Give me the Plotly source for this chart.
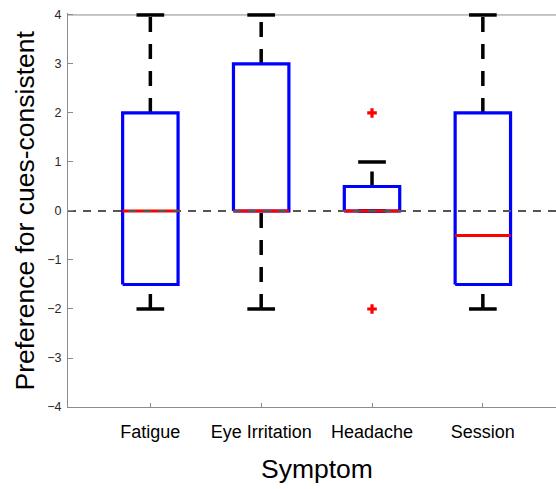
import plotly.graph_objects as go

# Box-plot summary per symptom
symptoms = ["Fatigue", "Eye Irritation", "Headache", "Session"]
positions = [1, 2, 3, 4]
lower_whisker = [-2, -2, 0, -2]
q1 = [-1.5, 0, 0, -1.5]
median = [0, 0, 0, -0.5]
q3 = [2, 3, 0.5, 2]
upper_whisker = [4, 4, 1, 4]
outlier_x = ["Headache", "Headache"]
outlier_y = [2, -2]

y_ticks = [-4, -3, -2, -1, 0, 1, 2, 3, 4]

BOX_HALF = 0.25
CAP_HALF = 0.125
X_RANGE = [0.257, 4.66]
Y_RANGE = [-4, 4.04]

fig = go.Figure()

def add_line(xs, ys, color, width, dash="solid"):
    fig.add_trace(go.Scatter(
        x=xs, y=ys, mode="lines",
        line=dict(color=color, width=width, dash=dash),
        hoverinfo="skip", showlegend=False,
    ))

# top border of the axes box
add_line(X_RANGE, [4, 4], "#8c8c8c", 1)

for p, lo, a, m, b, hi in zip(positions, lower_whisker, q1, median, q3, upper_whisker):
    # dashed whiskers, each drawn upward (low value to high value)
    if hi > b:
        add_line([p, p], [b, hi], "black", 3.5, "15px,12px")
    if lo < a:
        add_line([p, p], [lo, a], "black", 3.5, "15px,12px")
    # whisker caps
    add_line([p - CAP_HALF, p + CAP_HALF], [hi, hi], "black", 3.5)
    add_line([p - CAP_HALF, p + CAP_HALF], [lo, lo], "black", 3.5)
    # interquartile box
    add_line([p - BOX_HALF, p + BOX_HALF, p + BOX_HALF, p - BOX_HALF, p - BOX_HALF],
             [a, a, b, b, a], "#0000ff", 3.2)
    # median
    add_line([p - BOX_HALF, p + BOX_HALF], [m, m], "#ff0000", 3)

# outliers
fig.add_trace(go.Scatter(
    x=[positions[symptoms.index(s)] for s in outlier_x], y=outlier_y,
    mode="markers",
    marker=dict(symbol="cross", size=8, color="#ff0000", line=dict(width=0)),
    hoverinfo="skip", showlegend=False,
))

# zero reference line
add_line(X_RANGE, [0, 0], "#555555", 2, "8px,7px")

fig.update_layout(
    width=556, height=489,
    margin=dict(l=67.5, r=0, t=12.5, b=82),
    paper_bgcolor="white", plot_bgcolor="white",
    font=dict(family="Liberation Sans, Arial, sans-serif", color="#262626"),
    xaxis=dict(
        range=X_RANGE, tickmode="array", tickvals=positions, ticktext=symptoms,
        ticks="inside", ticklen=4, tickcolor="#8c8c8c", tickwidth=1,
        showline=True, linecolor="#8c8c8c", linewidth=1,
        showgrid=False, zeroline=False,
        tickfont=dict(size=18, color="black"), ticklabelstandoff=8,
    ),
    yaxis=dict(
        range=Y_RANGE, tickmode="array", tickvals=y_ticks,
        ticks="inside", ticklen=5, tickcolor="#8c8c8c", tickwidth=1,
        showline=True, linecolor="#8c8c8c", linewidth=1,
        showgrid=False, zeroline=False,
        tickfont=dict(size=12.5, color="#262626"), ticklabelstandoff=3,
    ),
    annotations=[
        dict(text="Symptom", xref="x", yref="paper", x=2.5, y=0,
             yshift=-62, xanchor="center", yanchor="middle", showarrow=False,
             font=dict(size=26.5, color="black")),
        dict(text="Preference for cues-consistent", xref="paper", yref="y",
             x=0, y=0, xshift=-43.5, textangle=-90, xanchor="center", yanchor="middle",
             showarrow=False, font=dict(size=26.5, color="black")),
    ],
)

fig.write_html("out.html")
